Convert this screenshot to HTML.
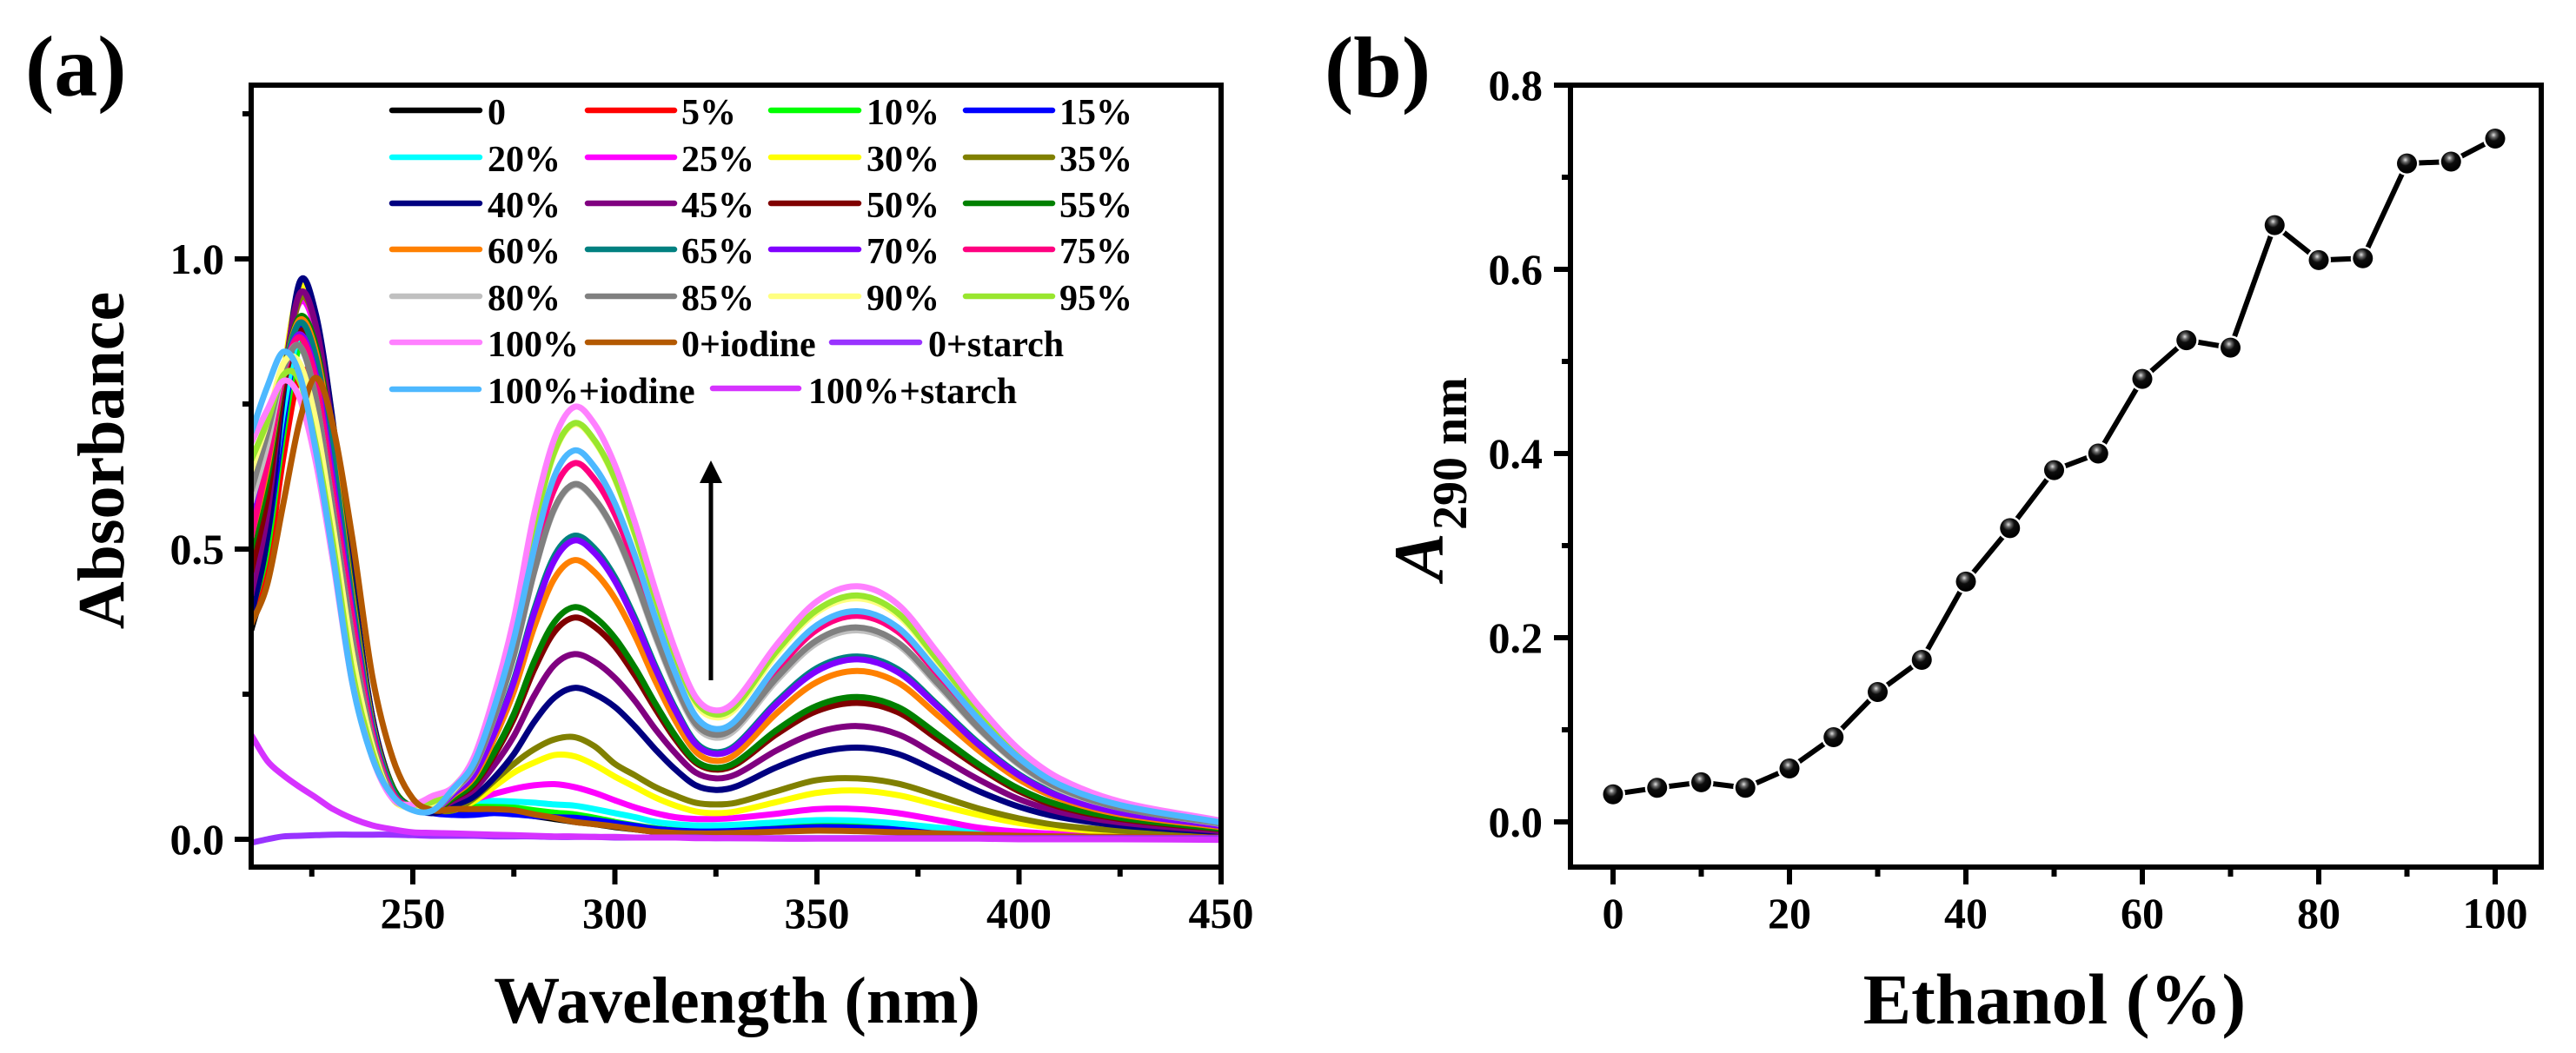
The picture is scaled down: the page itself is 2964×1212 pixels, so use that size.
<!DOCTYPE html>
<html lang="en">
<head>
<meta charset="utf-8">
<title>Absorbance spectra and A290 versus ethanol</title>
<style>
html,body{margin:0;padding:0;background:#fff;}
svg{display:block;font-family:"Liberation Serif","Times New Roman",serif;font-weight:bold;}
.lg{font-size:42px;fill:#000;}
.ll{stroke-width:6.5;stroke-linecap:round;}
</style>
</head>
<body>
<svg id="figure" xmlns="http://www.w3.org/2000/svg" width="2964" height="1212" viewBox="0 0 2964 1212">
  <defs>
    <clipPath id="plot-a-clip"><rect x="289" y="98" width="1116" height="900"/></clipPath>
    <radialGradient id="ball" cx="42%" cy="32%" r="62%">
      <stop offset="0%" stop-color="#e0e0e0"/>
      <stop offset="22%" stop-color="#666"/>
      <stop offset="48%" stop-color="#0d0d0d"/>
      <stop offset="100%" stop-color="#000"/>
    </radialGradient>
  </defs>
  <rect x="0" y="0" width="2964" height="1212" fill="#fff"/>

  <text x="29" y="110" font-size="100">(a)</text>
  <text x="1524" y="111" font-size="100">(b)</text>

  <g id="plot-a">
    <g id="curves-a" clip-path="url(#plot-a-clip)" fill="none"></g>
    <g id="axes-a"></g>
  </g>
  <g id="plot-b">
    <g id="axes-b"></g>
    <g id="series-b"></g>
  </g>

  <text transform="translate(142,530) rotate(-90)" text-anchor="middle" font-size="76">Absorbance</text>
  <text x="848" y="1177" text-anchor="middle" font-size="76">Wavelength (nm)</text>
  <text x="2364" y="1178" text-anchor="middle" font-size="83">Ethanol (%)</text>
  <g>
    <text transform="translate(1660,668) rotate(-90)" font-size="82" font-style="italic">A</text>
    <text transform="translate(1687,610) rotate(-90)" font-size="56">290 nm</text>
  </g>

  <g>
    <line x1="818" y1="783" x2="818" y2="550" stroke="#000" stroke-width="5"/>
    <polygon points="818,530 805,556 831,556" fill="#000"/>
  </g>

  <g id="legend">
    <g><line class="ll" x1="451" x2="552" y1="127" y2="127" stroke="#000000"/><text class="lg" x="561" y="143">0</text></g>
    <g><line class="ll" x1="676" x2="776" y1="127" y2="127" stroke="#ff0000"/><text class="lg" x="784" y="143">5%</text></g>
    <g><line class="ll" x1="887" x2="988" y1="127" y2="127" stroke="#00ff00"/><text class="lg" x="997" y="143">10%</text></g>
    <g><line class="ll" x1="1111" x2="1211" y1="127" y2="127" stroke="#0000ff"/><text class="lg" x="1219" y="143">15%</text></g>

    <g><line class="ll" x1="451" x2="552" y1="181" y2="181" stroke="#00ffff"/><text class="lg" x="561" y="197">20%</text></g>
    <g><line class="ll" x1="676" x2="776" y1="181" y2="181" stroke="#ff00ff"/><text class="lg" x="784" y="197">25%</text></g>
    <g><line class="ll" x1="887" x2="988" y1="181" y2="181" stroke="#ffff00"/><text class="lg" x="997" y="197">30%</text></g>
    <g><line class="ll" x1="1111" x2="1211" y1="181" y2="181" stroke="#808000"/><text class="lg" x="1219" y="197">35%</text></g>

    <g><line class="ll" x1="451" x2="552" y1="234" y2="234" stroke="#000080"/><text class="lg" x="561" y="250">40%</text></g>
    <g><line class="ll" x1="676" x2="776" y1="234" y2="234" stroke="#800080"/><text class="lg" x="784" y="250">45%</text></g>
    <g><line class="ll" x1="887" x2="988" y1="234" y2="234" stroke="#800000"/><text class="lg" x="997" y="250">50%</text></g>
    <g><line class="ll" x1="1111" x2="1211" y1="234" y2="234" stroke="#008000"/><text class="lg" x="1219" y="250">55%</text></g>

    <g><line class="ll" x1="451" x2="552" y1="287" y2="287" stroke="#ff8000"/><text class="lg" x="561" y="303">60%</text></g>
    <g><line class="ll" x1="676" x2="776" y1="287" y2="287" stroke="#008080"/><text class="lg" x="784" y="303">65%</text></g>
    <g><line class="ll" x1="887" x2="988" y1="287" y2="287" stroke="#8000ff"/><text class="lg" x="997" y="303">70%</text></g>
    <g><line class="ll" x1="1111" x2="1211" y1="287" y2="287" stroke="#ff0080"/><text class="lg" x="1219" y="303">75%</text></g>

    <g><line class="ll" x1="451" x2="552" y1="341" y2="341" stroke="#c0c0c0"/><text class="lg" x="561" y="357">80%</text></g>
    <g><line class="ll" x1="676" x2="776" y1="341" y2="341" stroke="#808080"/><text class="lg" x="784" y="357">85%</text></g>
    <g><line class="ll" x1="887" x2="988" y1="341" y2="341" stroke="#ffff80"/><text class="lg" x="997" y="357">90%</text></g>
    <g><line class="ll" x1="1111" x2="1211" y1="341" y2="341" stroke="#99e62e"/><text class="lg" x="1219" y="357">95%</text></g>

    <g><line class="ll" x1="451" x2="552" y1="394" y2="394" stroke="#ff80ff"/><text class="lg" x="561" y="410">100%</text></g>
    <g><line class="ll" x1="676" x2="776" y1="394" y2="394" stroke="#b35900"/><text class="lg" x="784" y="410">0+iodine</text></g>
    <g><line class="ll" x1="957" x2="1058" y1="394" y2="394" stroke="#9933ff"/><text class="lg" x="1068" y="410">0+starch</text></g>

    <g><line class="ll" x1="451" x2="551" y1="448" y2="448" stroke="#4db8ff"/><text class="lg" x="561" y="464">100%+iodine</text></g>
    <g><line class="ll" x1="820" x2="919" y1="447" y2="447" stroke="#d633ff"/><text class="lg" x="930" y="464">100%+starch</text></g>
  </g>
</svg>

<script>
// ---- Panel (a) data: absorbance read at each wavelength ----
const wavelengths = [210,214,218,222,226,230,235,240,245,250,255,260,265,270,275,280,285,290,295,300,305,310,315,320,325,330,340,350,360,370,380,390,400,410,425,450];
const abs0 = [.36,.47,.72,.955,.90,.72,.44,.21,.09,.055,.05,.05,.052,.05,.045,.04,.035,.03,.026,.021,.017,.013,.011,.01,.01,.011,.014,.017,.017,.014,.01,.008,.006,.005,.004,.003];
const abs5 = [.375,.47,.66,.80,.78,.66,.42,.20,.09,.055,.05,.052,.055,.054,.05,.046,.04,.037,.032,.026,.021,.017,.014,.013,.013,.014,.017,.02,.019,.016,.012,.009,.007,.005,.004,.003];
const abs10 = [.39,.50,.70,.85,.82,.68,.43,.20,.09,.055,.05,.055,.058,.058,.055,.05,.046,.043,.037,.03,.024,.019,.016,.015,.015,.016,.02,.024,.023,.019,.014,.01,.007,.005,.004,.003];
const abs15 = [.40,.52,.72,.88,.86,.71,.44,.21,.09,.055,.045,.042,.042,.045,.043,.04,.038,.037,.033,.028,.023,.018,.015,.014,.014,.015,.018,.021,.02,.017,.012,.009,.007,.005,.004,.003];
const abs20 = [.43,.55,.74,.87,.82,.68,.42,.20,.085,.055,.05,.06,.066,.066,.065,.063,.06,.058,.052,.045,.038,.03,.026,.024,.024,.025,.029,.033,.032,.027,.02,.014,.01,.007,.005,.003];
const abs25 = [.47,.60,.80,.925,.875,.71,.44,.20,.085,.055,.05,.055,.068,.078,.087,.093,.095,.09,.08,.067,.055,.045,.038,.035,.035,.037,.044,.052,.052,.045,.033,.02,.013,.009,.006,.004];
const abs30 = [.42,.56,.80,.95,.90,.73,.45,.21,.09,.055,.05,.05,.065,.09,.115,.132,.145,.143,.128,.108,.09,.072,.058,.048,.045,.048,.064,.08,.084,.076,.059,.042,.028,.019,.012,.006];
const abs35 = [.41,.55,.78,.93,.885,.71,.44,.21,.09,.055,.05,.05,.07,.10,.13,.155,.172,.176,.16,.13,.11,.09,.075,.063,.06,.063,.083,.102,.105,.096,.075,.053,.036,.024,.015,.008];
const abs40 = [.385,.52,.77,.96,.905,.73,.45,.21,.09,.055,.045,.058,.073,.105,.147,.202,.244,.261,.25,.228,.194,.155,.12,.093,.085,.091,.124,.149,.158,.147,.116,.083,.056,.038,.024,.012];
const abs45 = [.42,.56,.79,.94,.885,.71,.43,.20,.09,.055,.05,.066,.085,.126,.178,.247,.30,.319,.306,.278,.238,.19,.148,.115,.105,.112,.153,.184,.195,.181,.143,.103,.069,.047,.029,.014];
const abs50 = [.46,.59,.78,.875,.83,.67,.42,.20,.09,.055,.05,.07,.093,.143,.208,.292,.357,.382,.366,.332,.282,.225,.172,.132,.12,.129,.181,.221,.235,.219,.172,.124,.083,.056,.035,.017];
const abs55 = [.50,.62,.80,.90,.85,.69,.43,.20,.09,.055,.05,.071,.096,.148,.216,.306,.374,.40,.383,.347,.295,.234,.178,.135,.123,.133,.188,.23,.245,.228,.18,.129,.087,.059,.037,.018];
const abs60 = [.52,.64,.80,.895,.84,.68,.42,.20,.085,.055,.05,.076,.106,.171,.255,.365,.449,.481,.46,.415,.35,.273,.204,.151,.135,.147,.217,.271,.29,.27,.213,.153,.103,.07,.043,.021];
const abs65 = [.53,.65,.80,.89,.83,.67,.41,.195,.085,.055,.05,.078,.111,.182,.275,.395,.488,.523,.501,.452,.381,.299,.225,.167,.15,.163,.237,.295,.315,.293,.231,.166,.112,.076,.047,.023];
const abs70 = [.545,.66,.80,.87,.80,.63,.39,.185,.08,.055,.05,.078,.11,.18,.271,.389,.48,.515,.493,.445,.375,.294,.221,.164,.147,.16,.233,.29,.31,.288,.228,.163,.11,.074,.046,.023];
const abs75 = [.52,.65,.80,.865,.79,.61,.38,.18,.08,.055,.05,.085,.128,.217,.334,.487,.603,.648,.62,.56,.472,.37,.278,.206,.185,.201,.291,.361,.385,.358,.283,.203,.137,.092,.057,.028];
const abs80 = [.58,.68,.81,.85,.76,.58,.35,.17,.075,.055,.05,.083,.122,.206,.316,.459,.568,.61,.584,.527,.445,.349,.262,.195,.175,.19,.273,.338,.36,.335,.264,.19,.128,.086,.054,.026];
const abs85 = [.60,.70,.81,.85,.76,.58,.35,.17,.075,.055,.05,.084,.123,.207,.317,.46,.57,.612,.586,.53,.448,.353,.266,.199,.18,.195,.278,.343,.365,.339,.268,.192,.13,.088,.054,.027];
const abs90 = [.635,.72,.82,.82,.72,.55,.32,.16,.07,.055,.06,.085,.135,.235,.365,.535,.665,.715,.685,.62,.523,.412,.311,.233,.21,.226,.319,.391,.415,.386,.305,.219,.147,.10,.062,.03];
const abs95 = [.653,.72,.80,.79,.68,.52,.29,.15,.07,.06,.065,.09,.137,.237,.367,.537,.667,.717,.687,.622,.526,.416,.315,.238,.215,.231,.324,.395,.42,.39,.308,.221,.149,.10,.063,.031];
const abs100 = [.683,.74,.79,.76,.65,.49,.27,.14,.07,.06,.075,.09,.14,.245,.38,.56,.69,.745,.715,.645,.545,.43,.325,.245,.222,.24,.335,.41,.436,.405,.32,.23,.155,.105,.065,.032];
const abs0Iodine = [.37,.44,.58,.72,.795,.72,.52,.28,.14,.07,.05,.052,.052,.052,.05,.043,.037,.03,.026,.022,.017,.013,.011,.01,.01,.011,.013,.015,.014,.012,.01,.008,.006,.005,.004,.003];
const abs0Starch = [-.006,0,.005,.006,.007,.008,.008,.008,.008,.007,.006,.006,.006,.005,.005,.005,.004,.004,.004,.003,.003,.003,.003,.003,.002,.002,.002,.002,.002,.002,.002,.002,.002,.002,.002,.002];
const abs100Iodine = [.70,.78,.84,.80,.67,.50,.27,.14,.075,.05,.05,.087,.13,.224,.345,.50,.625,.67,.641,.579,.488,.382,.286,.212,.19,.206,.298,.369,.393,.365,.288,.207,.14,.094,.059,.029];
const abs100Starch = [.18,.135,.11,.09,.072,.053,.036,.024,.017,.012,.011,.01,.009,.008,.007,.006,.005,.005,.004,.004,.003,.003,.003,.002,.002,.002,.001,.001,.001,.001,.001,.001,0,0,0,-.001];

const spectra = [abs0,abs5,abs10,abs15,abs20,abs25,abs30,abs35,abs40,abs45,abs50,abs55,abs60,abs65,abs70,abs75,abs80,abs85,abs90,abs95,abs100,abs0Iodine,abs0Starch,abs100Iodine,abs100Starch];
const spectraNames = ['0','5','10','15','20','25','30','35','40','45','50','55','60','65','70','75','80','85','90','95','100','0-iodine','0-starch','100-iodine','100-starch'];
const spectraColors = ['#000000','#ff0000','#00ff00','#0000ff','#00ffff','#ff00ff','#ffff00','#808000','#000080','#800080','#800000','#008000','#ff8000','#008080','#8000ff','#ff0080','#c0c0c0','#808080','#ffff80','#99e62e','#ff80ff','#b35900','#9933ff','#4db8ff','#d633ff'];

const xMajorA = [250,300,350,400,450];
const xMinorA = [225,275,325,375,425];
const yMajorA = [0,0.5,1];
const yMinorA = [0.25,0.75,1.25];
const xLabelsA = ['250','300','350','400','450'];
const yLabelsA = ['0.0','0.5','1.0'];

// ---- Panel (b) data ----
const ethanolPercent = [0,5,10,15,20,25,30,35,40,45,50,55,60,65,70,75,80,85,90,95,100];
const a290 = [.03,.037,.043,.037,.058,.092,.141,.176,.261,.319,.382,.4,.481,.523,.515,.648,.61,.612,.715,.717,.742];
const xMajorB = [0,20,40,60,80,100];
const xMinorB = [10,30,50,70,90];
const yMajorB = [0,0.2,0.4,0.6,0.8];
const yMinorB = [0.1,0.3,0.5,0.7];
const xLabelsB = ['0','20','40','60','80','100'];
const yLabelsB = ['0.0','0.2','0.4','0.6','0.8'];

// ---- Axis functions ----
function xA(v){return 475 + (v-250)*4.65;}
function yA(v){return 966 - v*668;}
function xB(v){return 1856 + v*10.15;}
function yB(v){return 946 - v*1060;}

const NS = 'http://www.w3.org/2000/svg';
function make(tag,parent){
  const el = document.createElementNS(NS,tag);
  parent.appendChild(el);
  return el;
}
function addLine(parent,x1,y1,x2,y2,w){
  const el = make('line',parent);
  el.setAttribute('x1',x1);
  el.setAttribute('y1',y1);
  el.setAttribute('x2',x2);
  el.setAttribute('y2',y2);
  el.setAttribute('stroke','#000');
  el.setAttribute('stroke-width',w);
  return el;
}
function addLabel(parent,x,y,anchor,str){
  const el = make('text',parent);
  el.setAttribute('x',x);
  el.setAttribute('y',y);
  el.setAttribute('text-anchor',anchor);
  el.setAttribute('font-size','50');
  el.textContent = str;
  return el;
}
// smooth curve through x/y samples (finite-difference Hermite)
function smoothPath(xs,ys){
  const n = xs.length, m = [];
  for(let i=0;i<n;i++){
    if(i===0) m.push((ys[1]-ys[0])/(xs[1]-xs[0]));
    else if(i===n-1) m.push((ys[n-1]-ys[n-2])/(xs[n-1]-xs[n-2]));
    else m.push((ys[i+1]-ys[i-1])/(xs[i+1]-xs[i-1]));
  }
  let d = 'M'+xs[0].toFixed(1)+' '+ys[0].toFixed(1);
  for(let i=0;i<n-1;i++){
    const h = (xs[i+1]-xs[i])/3;
    d += 'C'+(xs[i]+h).toFixed(1)+' '+(ys[i]+m[i]*h).toFixed(1)+' '+(xs[i+1]-h).toFixed(1)+' '+(ys[i+1]-m[i+1]*h).toFixed(1)+' '+xs[i+1].toFixed(1)+' '+ys[i+1].toFixed(1);
  }
  return d;
}

function drawFrame(parent,left,right,top,bottom){
  const spines = [[left,top,right,top],[right,top,right,bottom],[right,bottom,left,bottom],[left,bottom,left,top]];
  spines.forEach(function(s){
    const el = addLine(parent,s[0],s[1],s[2],s[3],6);
    el.setAttribute('stroke-linecap','square');
    
    
  });
}
function drawXTicks(parent,ticks,fn,bottom,len,name){
  ticks.forEach(function(t){
    const el = addLine(parent,fn(t),bottom,fn(t),bottom+len,6);
    
    
  });
}
function drawYTicks(parent,ticks,fn,left,len,name){
  ticks.forEach(function(t){
    const el = addLine(parent,left,fn(t),left-len,fn(t),6);
    
    
  });
}

// ---- Panel (a) ----
const curvesA = document.getElementById('curves-a');
spectra.forEach(function(vals,i){
  const xs = wavelengths.map(xA);
  const ys = vals.map(yA);
  const p = make('path',curvesA);
  p.setAttribute('d',smoothPath(xs,ys));
  p.setAttribute('stroke',spectraColors[i]);
  p.setAttribute('stroke-width','7');
  p.setAttribute('stroke-linejoin','round');
  
  
});

const axesA = document.getElementById('axes-a');
drawFrame(axesA,289,1405,98,998);
drawXTicks(axesA,xMajorA,xA,998,20,'x-tick-major-a');
drawXTicks(axesA,xMinorA,xA,998,11,'x-tick-minor-a');
drawYTicks(axesA,yMajorA,yA,289,19,'y-tick-major-a');
drawYTicks(axesA,yMinorA,yA,289,10,'y-tick-minor-a');
xMajorA.forEach(function(t,i){
  const el = addLabel(axesA,xA(t),1068,'middle',xLabelsA[i]);
  
  
});
yMajorA.forEach(function(t,i){
  const el = addLabel(axesA,258,yA(t)+17,'end',yLabelsA[i]);
  
  
});

// ---- Panel (b) ----
const axesB = document.getElementById('axes-b');
drawFrame(axesB,1807,2924,98,998);
drawXTicks(axesB,xMajorB,xB,998,20,'x-tick-major-b');
drawXTicks(axesB,xMinorB,xB,998,11,'x-tick-minor-b');
drawYTicks(axesB,yMajorB,yB,1807,19,'y-tick-major-b');
drawYTicks(axesB,yMinorB,yB,1807,10,'y-tick-minor-b');
xMajorB.forEach(function(t,i){
  const el = addLabel(axesB,xB(t),1068,'middle',xLabelsB[i]);
  
  
});
yMajorB.forEach(function(t,i){
  const el = addLabel(axesB,1775,yB(t)+17,'end',yLabelsB[i]);
  
  
});

const seriesB = document.getElementById('series-b');
const trace = make('polyline',seriesB);
trace.setAttribute('points',ethanolPercent.map(function(e,i){return xB(e)+','+yB(a290[i]);}).join(' '));
trace.setAttribute('fill','none');
trace.setAttribute('stroke','#000');
trace.setAttribute('stroke-width','6');


ethanolPercent.forEach(function(e,i){
  const halo = make('circle',seriesB);
  halo.setAttribute('cx',xB(e));
  halo.setAttribute('cy',yB(a290[i]));
  halo.setAttribute('r','14');
  halo.setAttribute('fill','#fff');
  
  
});
ethanolPercent.forEach(function(e,i){
  const dot = make('circle',seriesB);
  dot.setAttribute('cx',xB(e));
  dot.setAttribute('cy',yB(a290[i]));
  dot.setAttribute('r','11.5');
  dot.setAttribute('fill','url(#ball)');
  
  
});
</script>
</body>
</html>
